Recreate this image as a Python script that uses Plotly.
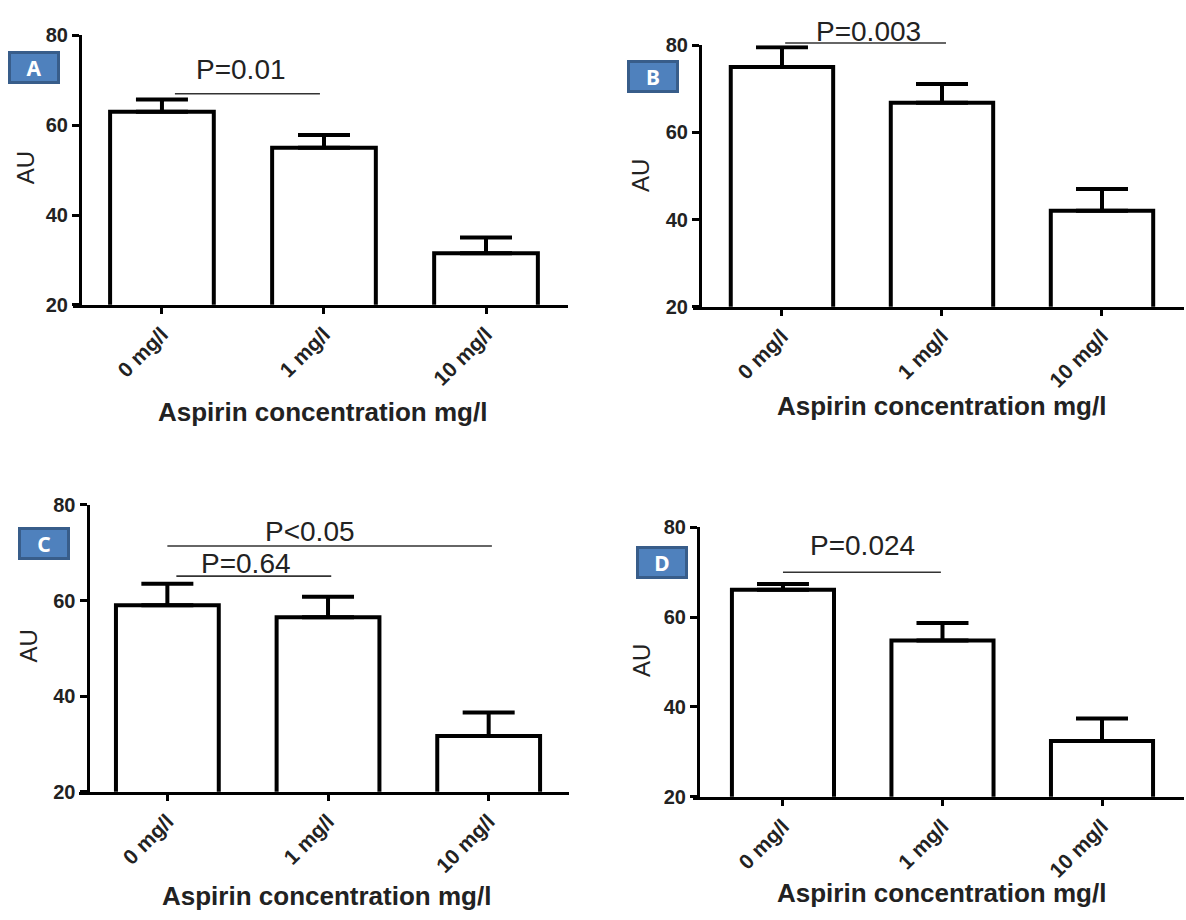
import plotly.graph_objects as go

W, H = 1186, 920

# ---------------- data ----------------
categories = ["0 mg/l", "1 mg/l", "10 mg/l"]
a_means = [63.0, 55.0, 31.5]
a_errs = [2.7, 2.8, 3.5]
b_means = [75.0, 66.8, 42.0]
b_errs = [4.5, 4.3, 5.0]
c_means = [59.0, 56.5, 31.7]
c_errs = [4.5, 4.3, 4.9]
d_means = [66.1, 54.8, 32.4]
d_errs = [1.3, 3.9, 5.0]
panel_letters = ["A", "B", "C", "D"]
y_ticks = [20, 40, 60, 80]
# significance bars: (x_start, x_end, y_line, text_x, text_y, label)
a_sig = [(0.08, 0.975, 67.0, 0.49, 72.5, "P=0.01")]
b_sig = [(0.02, 1.025, 80.5, 0.54, 83.2, "P=0.003")]
c_sig = [(0.0, 2.02, 71.4, 0.89, 74.5, "P<0.05"),
         (0.056, 1.02, 65.1, 0.49, 67.7, "P=0.64")]
d_sig = [(0.0, 0.99, 70.0, 0.5, 76.0, "P=0.024")]

# ---------------- layout (pixels) ----------------
panels = [
    dict(means=a_means, errs=a_errs, sig=a_sig, xd=(73, 568), yd=(25, 301), yax=80,
         xr=(-0.549, 2.506), box=(34, 57.5), au=(25, 161), xt=(322, 411)),
    dict(means=b_means, errs=b_errs, sig=b_sig, xd=(693, 1184), yd=(35, 303), yax=700,
         xr=(-0.556, 2.5125), box=(653, 67.5), au=(641, 169), xt=(942, 405)),
    dict(means=c_means, errs=c_errs, sig=c_sig, xd=(79, 569), yd=(506, 800), yax=87.5,
         xr=(-0.55, 2.5), box=(44, 545.5), au=(28, 651), xt=(326, 907)),
    dict(means=d_means, errs=d_errs, sig=d_sig, xd=(693, 1184), yd=(529, 805), yax=698,
         xr=(-0.564, 2.514), box=(662, 565.5), au=(641, 666), xt=(942, 904)),
]

FONT = "Liberation Sans, Arial, sans-serif"


def fx(p):
    return p / W


def fy(p):
    return 1 - p / H


fig = go.Figure()
shapes = []
annotations = []
layout = {}

for i, p in enumerate(panels):
    n = "" if i == 0 else str(i + 1)
    xa, ya = "x" + n, "y" + n
    fig.add_trace(go.Bar(
        x=categories, y=p["means"], xaxis=xa, yaxis=ya, width=0.64,
        marker=dict(color="white", line=dict(color="black", width=4)),
        error_y=dict(type="data", symmetric=False, array=p["errs"],
                     arrayminus=[0] * len(p["errs"]), color="black",
                     thickness=4, width=26),
        showlegend=False, hoverinfo="y",
    ))
    layout["xaxis" + n] = dict(
        domain=[fx(p["xd"][0]), fx(p["xd"][1])], anchor=ya, range=list(p["xr"]),
        type="category", showline=True, linecolor="black", linewidth=3,
        ticks="outside", ticklen=6, tickwidth=3, tickcolor="black",
        tickangle=-45, showgrid=False, zeroline=False,
        tickfont=dict(family=FONT, size=21, color="#222", weight="bold"),
    )
    layout["yaxis" + n] = dict(
        domain=[fy(p["yd"][1]), fy(p["yd"][0])], anchor="free", position=fx(p["yax"]),
        range=[20, 80], tickvals=y_ticks, showline=True, linecolor="black", linewidth=3,
        ticks="outside", ticklen=7, tickwidth=3, tickcolor="black",
        showgrid=False, zeroline=False,
        tickfont=dict(family=FONT, size=20, color="#222", weight="bold"),
    )
    r0, r1 = p["xr"]

    def dx(v):
        return (v - r0) / (r1 - r0)

    def dy(v):
        return (v - 20) / 60

    for (x0, x1, yl, tx, ty, lab) in p["sig"]:
        shapes.append(dict(type="line", xref=xa + " domain", yref=ya + " domain",
                           x0=dx(x0), x1=dx(x1), y0=dy(yl), y1=dy(yl),
                           line=dict(color="#333", width=1.6)))
        annotations.append(dict(text=lab, xref=xa + " domain", yref=ya + " domain",
                                x=dx(tx), y=dy(ty), showarrow=False,
                                xanchor="center", yanchor="middle",
                                font=dict(family=FONT, size=28, color="#222")))
    # panel letter box
    annotations.append(dict(text="<b>%s</b>" % panel_letters[i], xref="paper", yref="paper",
                            x=fx(p["box"][0]), y=fy(p["box"][1]), showarrow=False,
                            xanchor="center", yanchor="middle", width=44, height=25,
                            bgcolor="#4F81BD", bordercolor="#385D8A", borderwidth=3,
                            font=dict(family="Noto Sans, sans-serif", size=21, color="white")))
    # y title
    annotations.append(dict(text="AU", xref="paper", yref="paper",
                            x=fx(p["au"][0]), y=fy(p["au"][1]), showarrow=False,
                            textangle=-90, xanchor="center", yanchor="middle",
                            font=dict(family=FONT, size=24, color="#222")))
    # x title
    annotations.append(dict(text="<b>Aspirin concentration mg/l</b>", xref="paper", yref="paper",
                            x=fx(p["xt"][0]), y=fy(p["xt"][1]), showarrow=False,
                            xanchor="center", yanchor="middle",
                            font=dict(family=FONT, size=26, color="#222")))

fig.update_layout(
    width=W, height=H, margin=dict(l=0, r=0, t=0, b=0),
    paper_bgcolor="white", plot_bgcolor="white",
    shapes=shapes, annotations=annotations, bargap=0.3, **layout,
)
fig.write_html("out.html", config={"displayModeBar": False},
               post_script="document.body.style.margin='0';document.body.style.overflow='hidden';")
